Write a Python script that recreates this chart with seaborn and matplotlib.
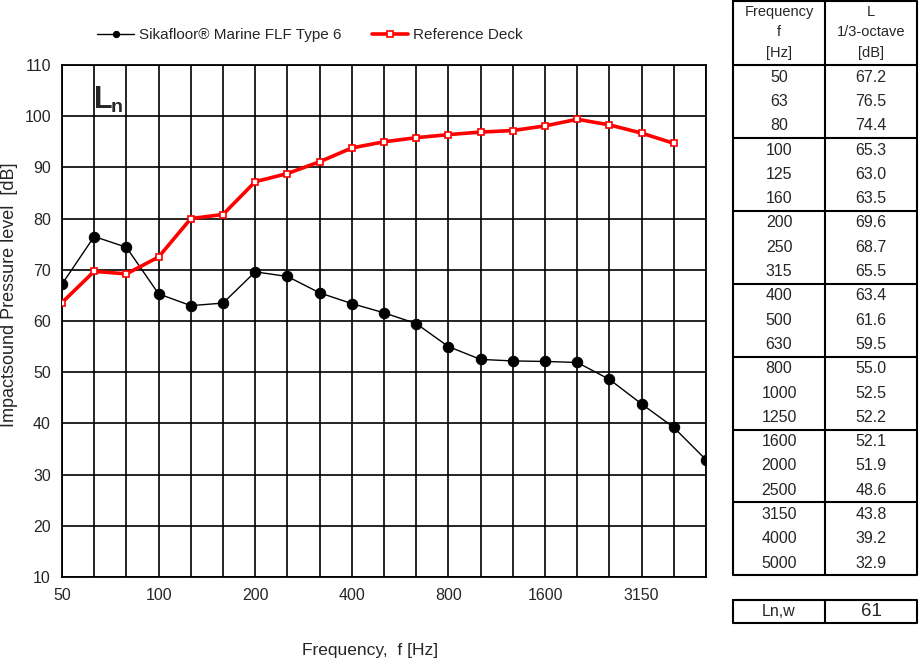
import matplotlib
matplotlib.use("Agg")
import matplotlib.pyplot as plt
import numpy as np
import pandas as pd
import seaborn as sns

# ── Data ────────────────────────────────────────────────────────────────────
freqs = [50, 63, 80, 100, 125, 160, 200, 250, 315, 400, 500, 630,
         800, 1000, 1250, 1600, 2000, 2500, 3150, 4000, 5000]
sika = [67.2, 76.5, 74.4, 65.3, 63.0, 63.5, 69.6, 68.7, 65.5, 63.4, 61.6,
        59.5, 55.0, 52.5, 52.2, 52.1, 51.9, 48.6, 43.8, 39.2, 32.9]
ref_deck = [63.6, 69.7, 69.2, 72.5, 80.0, 80.8, 87.2, 88.8, 91.1, 93.8,
            95.0, 95.8, 96.4, 96.9, 97.2, 98.1, 99.4, 98.3, 96.7, 94.7]
xtick_labels = ["50", "100", "200", "400", "800", "1600", "3150"]
ln_w = 61

sika_name = "Sikafloor\u00ae Marine FLF Type 6"
ref_name = "Reference Deck"

sns.set_style("white")
plt.rcParams['font.family'] = ['Liberation Sans', 'DejaVu Sans']

fig = plt.figure(figsize=(9.21, 6.68), dpi=100)
W, H = 921, 668
ax = fig.add_axes([62 / W, 1 - 577 / H, 644 / W, 512 / H])

df_sika = pd.DataFrame({"pos": np.arange(len(sika)), "L": sika})
df_ref = pd.DataFrame({"pos": np.arange(len(ref_deck)), "L": ref_deck})

sns.lineplot(data=df_sika, x="pos", y="L", ax=ax, color="black", lw=1,
             marker="o", markersize=7.5, markeredgecolor="black",
             label=sika_name, zorder=4)
sns.lineplot(data=df_ref, x="pos", y="L", ax=ax, color="#ff0000", lw=2.6,
             marker="s", markersize=5, markerfacecolor="white",
             markeredgecolor="#ff0000", markeredgewidth=1.2,
             label=ref_name, zorder=5)

ax.set_xlim(0, len(freqs) - 1)
ax.set_ylim(10, 110)
ax.set_yticks(np.arange(10, 111, 10))
ax.set_xticks(np.arange(len(freqs)), minor=True)
ax.set_xticks(np.arange(0, len(freqs), 3))
ax.set_xticklabels(xtick_labels)
ax.grid(True, which="both", axis="x", color="black", lw=1.2)
ax.grid(True, which="major", axis="y", color="black", lw=1.2)
ax.tick_params(which="both", length=0, labelsize=11.5, pad=8)
for s in ax.spines.values():
    s.set_color("black")
    s.set_linewidth(1.3)

ax.set_xlabel("")
ax.set_ylabel("")
fig.text(370 / W, 1 - 650 / H, "Frequency,  f [Hz]", ha="center",
         va="center", fontsize=12.5)
fig.text(10 / W, 1 - 295 / H, "Impactsound Pressure level  [dB]",
         ha="center", va="center", rotation=90, fontsize=13)

# L_n label (bold L with subscript n)
fig.text(94 / W, 1 - 108 / H, "L", ha="left", va="baseline",
         fontsize=22, fontweight="bold")
fig.text(111 / W, 1 - 112 / H, "n", ha="left", va="baseline",
         fontsize=14, fontweight="bold")

leg = ax.legend(loc="center", bbox_to_anchor=(310 / W, 1 - 35 / H),
                bbox_transform=fig.transFigure, ncol=2, frameon=False,
                fontsize=11, handlelength=2.4, columnspacing=2.0,
                handletextpad=0.3)
for h in leg.legend_handles:
    h.set_markersize(4.5)

# ── Table on the right ───────────────────────────────────────────────────────
tab = fig.add_axes([0, 0, 1, 1])
tab.set_xlim(0, W)
tab.set_ylim(H, 0)
tab.axis("off")
tab.patch.set_alpha(0)

x0, xm, x1 = 733, 825, 917
top, head_bot = 1, 65
row_h = 24.3
lw_t = 1.5
tab.plot([x0, x1, x1, x0, x0], [top, top, 575, 575, top], color="black", lw=lw_t)
tab.plot([xm, xm], [top, 575], color="black", lw=lw_t)
for y in [head_bot + 3 * row_h * k for k in range(7)]:
    tab.plot([x0, x1], [y, y], color="black", lw=lw_t)

header_l = ["Frequency", "f", "[Hz]"]
header_r = ["L", "1/3-octave", "[dB]"]
for i, (a, b) in enumerate(zip(header_l, header_r)):
    yy = 12 + i * 20.5
    tab.text((x0 + xm) / 2, yy, a, ha="center", va="center", fontsize=10.5)
    tab.text((xm + x1) / 2, yy, b, ha="center", va="center", fontsize=10.5)

for i, (f, v) in enumerate(zip(freqs, sika)):
    yy = head_bot + (i + 0.5) * row_h
    tab.text((x0 + xm) / 2, yy, str(f), ha="center", va="center", fontsize=11.5)
    tab.text((xm + x1) / 2, yy, f"{v:.1f}", ha="center", va="center", fontsize=11.5)

tab.plot([x0, x1, x1, x0, x0], [600, 600, 623, 623, 600], color="black", lw=lw_t)
tab.plot([xm, xm], [600, 623], color="black", lw=lw_t)
tab.text((x0 + xm) / 2, 611.5, "Ln,w", ha="center", va="center", fontsize=11.5)
tab.text((xm + x1) / 2, 611.5, str(ln_w), ha="center", va="center", fontsize=13.5)

fig.savefig("out.png", dpi=100)
